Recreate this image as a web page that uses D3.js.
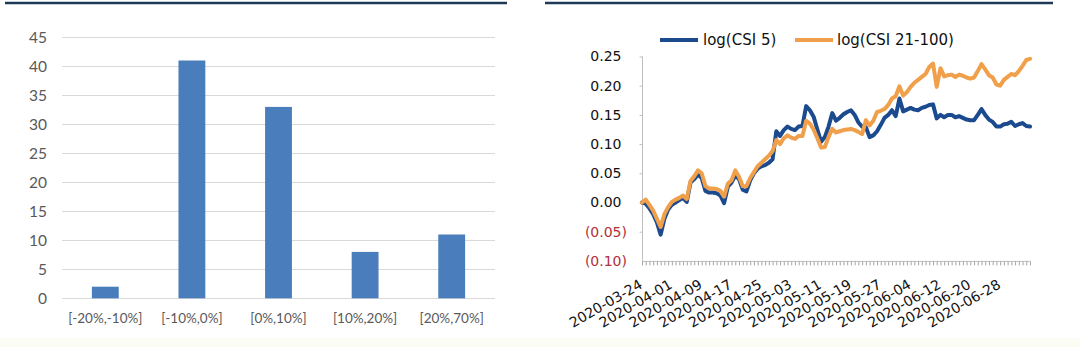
<!DOCTYPE html>
<html><head><meta charset="utf-8">
<script src="https://cdn.jsdelivr.net/npm/d3@7"></script>
<style>html,body{margin:0;padding:0;background:#fff;}svg{display:block;}</style>
</head><body>
<svg id="c" width="1080" height="347"></svg>
<script>
// ---- Left chart data ----
const barCats = ["[-20%,-10%]","[-10%,0%]","[0%,10%]","[10%,20%]","[20%,70%]"];
const barVals = [2, 41, 33, 8, 11];
const barTicks = [0,5,10,15,20,25,30,35,40,45];

// ---- Right chart data ----
const dates = [
"2020-03-24","2020-03-25","2020-03-26","2020-03-27","2020-03-28","2020-03-29","2020-03-30","2020-03-31",
"2020-04-01","2020-04-02","2020-04-03","2020-04-04","2020-04-05","2020-04-06","2020-04-07","2020-04-08","2020-04-09","2020-04-10",
"2020-04-11","2020-04-12","2020-04-13","2020-04-14","2020-04-15","2020-04-16","2020-04-17","2020-04-18","2020-04-19","2020-04-20",
"2020-04-21","2020-04-22","2020-04-23","2020-04-24","2020-04-25","2020-04-26","2020-04-27","2020-04-28","2020-04-29","2020-04-30",
"2020-05-01","2020-05-02","2020-05-03","2020-05-04","2020-05-05","2020-05-06","2020-05-07","2020-05-08","2020-05-09","2020-05-10",
"2020-05-11","2020-05-12","2020-05-13","2020-05-14","2020-05-15","2020-05-16","2020-05-17","2020-05-18","2020-05-19","2020-05-20",
"2020-05-21","2020-05-22","2020-05-23","2020-05-24","2020-05-25","2020-05-26","2020-05-27","2020-05-28","2020-05-29","2020-05-30","2020-05-31",
"2020-06-01","2020-06-02","2020-06-03","2020-06-04","2020-06-05","2020-06-06","2020-06-07","2020-06-08","2020-06-09","2020-06-10",
"2020-06-11","2020-06-12","2020-06-13","2020-06-14","2020-06-15","2020-06-16","2020-06-17","2020-06-18","2020-06-19","2020-06-20",
"2020-06-21","2020-06-22","2020-06-23","2020-06-24","2020-06-25","2020-06-26","2020-06-27","2020-06-28","2020-06-29","2020-06-30",
"2020-07-01","2020-07-02","2020-07-03","2020-07-04","2020-07-05","2020-07-06"];
const csi5 = [
 0.000,-0.002,-0.010,-0.020,-0.034,-0.055,-0.028,-0.012,-0.004, 0.000,
 0.004, 0.008, 0.001, 0.034, 0.040, 0.048, 0.042, 0.020, 0.017, 0.017,
 0.016, 0.012,-0.001, 0.027, 0.034, 0.046, 0.040, 0.022, 0.019, 0.038,
 0.050, 0.058, 0.062, 0.064, 0.068, 0.074, 0.122, 0.114, 0.124, 0.130,
 0.126, 0.124, 0.130, 0.131, 0.165, 0.158, 0.147, 0.125, 0.104, 0.112,
 0.130, 0.153, 0.140, 0.145, 0.151, 0.155, 0.158, 0.150, 0.137, 0.130,
 0.129, 0.112, 0.115, 0.122, 0.133, 0.145, 0.150, 0.158, 0.148, 0.178,
 0.156, 0.159, 0.162, 0.159, 0.158, 0.162, 0.164, 0.167, 0.168, 0.144,
 0.150, 0.146, 0.150, 0.150, 0.146, 0.148, 0.145, 0.142, 0.141, 0.141,
 0.150, 0.160, 0.150, 0.142, 0.138, 0.130, 0.130, 0.134, 0.135, 0.138,
 0.131, 0.134, 0.136, 0.131, 0.130];
const csi21 = [
 0.000, 0.005,-0.004,-0.014,-0.028,-0.042,-0.020,-0.008, 0.001, 0.005,
 0.008, 0.012, 0.006, 0.037, 0.045, 0.055, 0.050, 0.028, 0.024, 0.024,
 0.023, 0.020, 0.010, 0.032, 0.038, 0.055, 0.044, 0.028, 0.028, 0.042,
 0.052, 0.062, 0.068, 0.074, 0.080, 0.088, 0.107, 0.100, 0.110, 0.115,
 0.111, 0.109, 0.114, 0.114, 0.140, 0.135, 0.125, 0.110, 0.094, 0.095,
 0.112, 0.126, 0.120, 0.122, 0.124, 0.125, 0.126, 0.124, 0.121, 0.117,
 0.141, 0.132, 0.140, 0.155, 0.157, 0.160, 0.167, 0.178, 0.182, 0.199,
 0.183, 0.189, 0.198, 0.205, 0.210, 0.215, 0.220, 0.232, 0.238, 0.198,
 0.230, 0.216, 0.218, 0.219, 0.215, 0.219, 0.217, 0.214, 0.212, 0.214,
 0.225, 0.237, 0.228, 0.218, 0.214, 0.202, 0.200, 0.210, 0.215, 0.220,
 0.218, 0.225, 0.234, 0.244, 0.246];
const seriesNames = ["log(CSI 5)", "log(CSI 21-100)"];
const lineTicks = [-0.10,-0.05,0,0.05,0.10,0.15,0.20,0.25];
const xLabelDates = ["2020-03-24","2020-04-01","2020-04-09","2020-04-17","2020-04-25","2020-05-03",
 "2020-05-11","2020-05-19","2020-05-27","2020-06-04","2020-06-12","2020-06-20","2020-06-28"];

const svg = d3.select("#c");

// faint background tint
svg.append("rect").attr("x",0).attr("y",338).attr("width",1080).attr("height",9).attr("fill","#fbfcf3");

// top rules
svg.append("line").attr("x1",5).attr("x2",507).attr("y1",3).attr("y2",3).attr("stroke","#1e3a56").attr("stroke-width",2.5);
svg.append("line").attr("x1",545).attr("x2",1053).attr("y1",3).attr("y2",3).attr("stroke","#1e3a56").attr("stroke-width",2.5);

// ===== Left bar chart =====
const L = svg.append("g").attr("font-family","Lato, 'Open Sans', sans-serif");
const xb = d3.scaleBand().domain(barCats).range([62,495]).paddingInner(0.69).paddingOuter(0.345);
const yb = d3.scaleLinear().domain([0,45]).range([298.3,37.3]);

L.append("g").selectAll("line").data(barTicks).join("line")
  .attr("x1",62).attr("x2",495)
  .attr("y1",d=>Math.round(yb(d))+0.5).attr("y2",d=>Math.round(yb(d))+0.5)
  .attr("stroke","#d9d9d9").attr("stroke-width",1);

L.append("g").selectAll("text").data(barTicks).join("text")
  .attr("x",47).attr("y",d=>yb(d)).attr("dy","0.35em").attr("text-anchor","end")
  .attr("font-size",15.5).attr("fill","#595959").text(d=>d);

L.append("g").selectAll("rect").data(barVals).join("rect")
  .attr("x",(d,i)=>xb(barCats[i])).attr("width",xb.bandwidth())
  .attr("y",d=>yb(d)).attr("height",d=>yb(0)-yb(d))
  .attr("fill","#4a7dbb");

L.append("g").selectAll("text").data(barCats).join("text")
  .attr("x",d=>xb(d)+xb.bandwidth()/2).attr("y",318).attr("dy","0.35em")
  .attr("text-anchor","middle").attr("font-size",13.5).attr("fill","#595959").text(d=>d);

// ===== Right line chart =====
const R = svg.append("g").attr("font-family","'DejaVu Sans', Verdana, sans-serif");
const parse = d3.utcParse("%Y-%m-%d");
const xl = d3.scaleUtc().domain([parse(dates[0]), parse(dates[dates.length-1])]).range([642,1030]);
const yl = d3.scaleLinear().domain([-0.10,0.25]).range([260.9,56.5]);

// y axis
const yAx = R.append("g").attr("transform","translate(642.5,0)")
  .call(d3.axisLeft(yl).tickValues(lineTicks.filter(d=>d>-0.1)).tickSize(3).tickFormat(""));
yAx.select(".domain").attr("stroke","#bfbfbf").attr("d","M0,"+yl(0.25)+"V"+yl(-0.10));
yAx.selectAll(".tick line").attr("stroke","#bfbfbf");

// y labels
const fmt = d3.format(".2f");
R.append("g").selectAll("text").data(lineTicks).join("text")
  .attr("x",d=>d<0?627:621.5).attr("y",d=>yl(d)).attr("dy","0.35em").attr("text-anchor","end")
  .attr("font-size",14).attr("fill",d=>d<0?"#b2303a":"#111")
  .text(d=>d<0?"("+fmt(-d)+")":fmt(d));

// x axis with daily minor ticks
const xAx = R.append("g").attr("transform","translate(0,"+(yl(-0.10)+0.5)+")")
  .call(d3.axisBottom(xl).tickValues(dates.map(parse)).tickSize(4).tickFormat(""));
xAx.select(".domain").attr("stroke","#bfbfbf").attr("d","M642,0H1030");
xAx.selectAll(".tick line").attr("stroke","#a6a6a6");

// rotated date labels
R.append("g").selectAll("text").data(xLabelDates).join("text")
  .attr("transform",d=>"translate("+(xl(parse(d))-1)+",283) rotate(-30)")
  .attr("text-anchor","end").attr("dy","0.35em")
  .attr("font-size",14).attr("fill","#111").text(d=>d);

// lines
const colors = ["#1b4a8e","#f0a04b"];
const seriesData = [csi5, csi21];
const lineGen = d3.line().x((d,i)=>xl(parse(dates[i]))).y(d=>yl(d));
seriesData.forEach((s,k)=>{
  R.append("path").datum(s).attr("d",lineGen).attr("fill","none")
   .attr("stroke",colors[k]).attr("stroke-width",4)
   .attr("stroke-linejoin","round").attr("stroke-linecap","round");
});

// legend
const legX = [660, 795];
const legT = [703, 837];
seriesNames.forEach((n,k)=>{
  R.append("line").attr("x1",legX[k]).attr("x2",legX[k]+38).attr("y1",40).attr("y2",40)
   .attr("stroke",colors[k]).attr("stroke-width",4);
  R.append("text").attr("x",legT[k]).attr("y",40).attr("dy","0.35em")
   .attr("font-size",15).attr("fill","#111").text(n);
});
</script>
</body></html>
